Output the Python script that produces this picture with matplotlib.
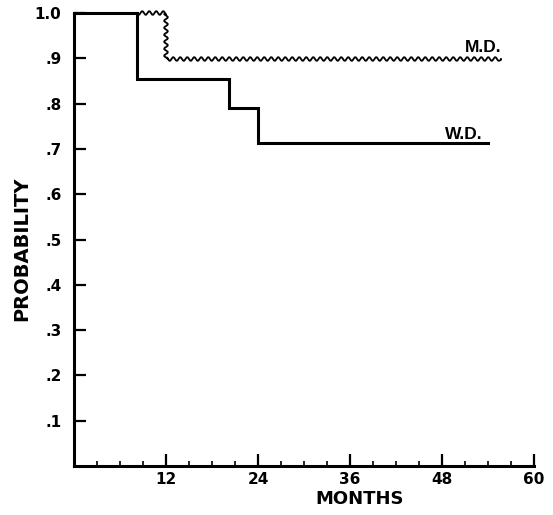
import numpy as np
import matplotlib
matplotlib.use("Agg")
import matplotlib.pyplot as plt
from matplotlib.ticker import MultipleLocator, FixedLocator

# survival curves (months, probability)
wd_months = [0, 8.2, 20.2, 24.0, 54.0]
wd_prob = [1.0, 0.854, 0.790, 0.713, 0.713]
md_months = [0, 12.0, 55.7]
md_prob = [1.0, 0.898, 0.898]

x_ticks = [12, 24, 36, 48, 60]
y_ticks = [0.1, 0.2, 0.3, 0.4, 0.5, 0.6, 0.7, 0.8, 0.9, 1.0]
y_ticklabels = [".1", ".2", ".3", ".4", ".5", ".6", ".7", ".8", ".9", "1.0"]

fig = plt.figure(figsize=(5.53, 5.15), dpi=100)
ax = fig.add_axes([74 / 553, 49 / 515, 460 / 553, 453 / 515])

# W.D. solid step curve
ax.step(wd_months, wd_prob, where="post", color="black", lw=2.2,
        solid_joinstyle="miter", clip_on=False, zorder=3)

# M.D. wavy curve, drawn only where it leaves the shared 1.0 segment
start = wd_months[1]
md_x = np.r_[start, md_months[1:]]
md_y = np.r_[md_prob[0], md_prob[1:]]
md_line, = ax.step(md_x, md_y, where="post", color="black", lw=1.3,
                   clip_on=False, zorder=2)
md_line.set_sketch_params(scale=1.9, length=7, randomness=1)

ax.text(md_months[-1], 0.908, "M.D.", ha="right", va="bottom",
        fontsize=12.5, fontweight="bold", family="Liberation Sans")
ax.text(53.3, 0.716, "W.D.", ha="right", va="bottom",
        fontsize=12.5, fontweight="bold", family="Liberation Sans")

ax.set_xlim(0, 60)
ax.set_ylim(0, 1.0)
ax.xaxis.set_major_locator(FixedLocator(x_ticks))
ax.xaxis.set_minor_locator(MultipleLocator(3))
ax.set_yticks(y_ticks)
ax.set_yticklabels(y_ticklabels)

for s in ["top", "right"]:
    ax.spines[s].set_visible(False)
for s in ["left", "bottom"]:
    ax.spines[s].set_linewidth(2.2)

ax.tick_params(axis="both", which="major", direction="in", length=8.5, width=1.6)
ax.tick_params(axis="x", which="minor", direction="in", length=3.5, width=1.2)
ax.tick_params(axis="y", pad=9)
ax.tick_params(axis="x", pad=4)
for lab in ax.get_xticklabels() + ax.get_yticklabels():
    lab.set_fontsize(11)
    lab.set_fontweight("bold")

ax.set_xlabel("MONTHS", fontsize=13, fontweight="bold")
ax.xaxis.set_label_coords(0.62, -0.052)
ax.set_ylabel("PROBABILITY", fontsize=14, fontweight="bold")
ax.yaxis.set_label_coords(-0.093, 0.48)

fig.savefig("out.png", dpi=100)
